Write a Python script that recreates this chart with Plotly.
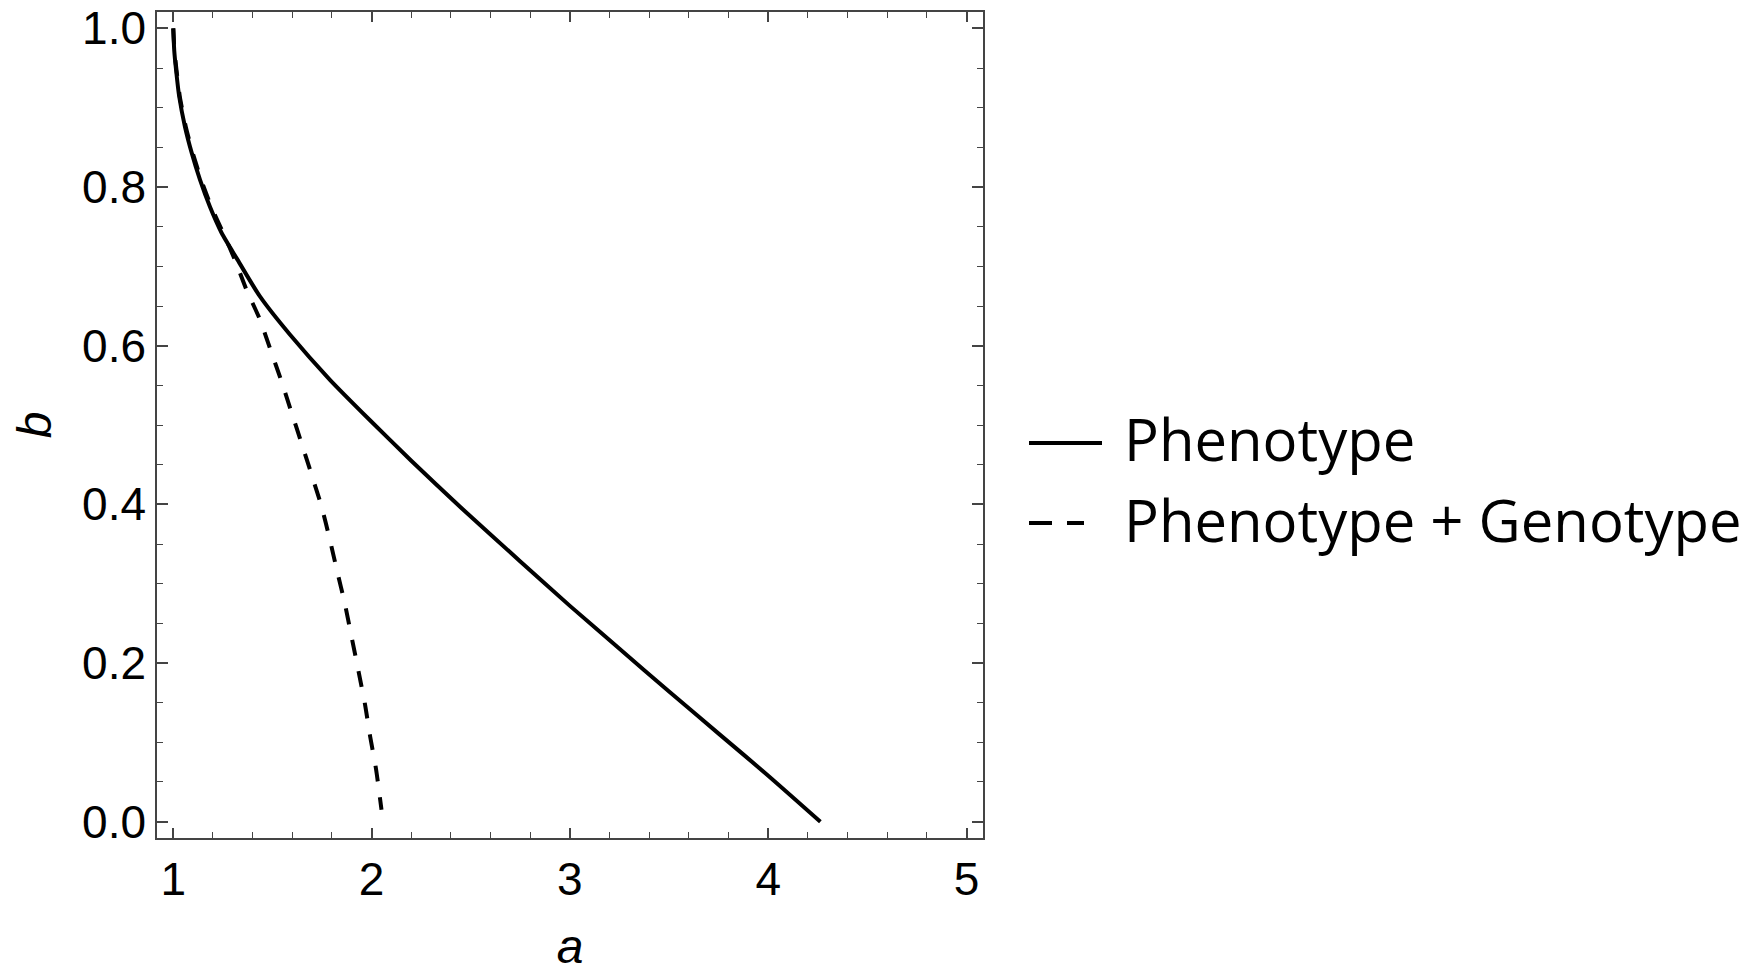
import plotly.graph_objects as go

# ---- data ----
a_pheno = [1.0, 1.005, 1.014, 1.030, 1.059, 1.093, 1.135, 1.185, 1.244, 1.320, 1.437,
           1.588, 1.790, 1.992, 2.2, 2.45, 2.75, 3.0, 3.25, 3.5, 3.75, 4.0, 4.263]
b_pheno = [1.0, 0.972, 0.948, 0.914, 0.876, 0.843, 0.809, 0.775, 0.742, 0.710, 0.662,
           0.614, 0.557, 0.506, 0.455, 0.396, 0.328, 0.272, 0.218, 0.164, 0.111, 0.058, 0.0]

a_geno = [1.0, 1.006, 1.016, 1.033, 1.063, 1.098, 1.141, 1.192, 1.252, 1.311, 1.370,
          1.437, 1.490, 1.543, 1.595, 1.647, 1.698, 1.748, 1.790, 1.827, 1.865, 1.899,
          1.933, 1.966, 1.993, 2.022, 2.050]
b_geno = [1.0, 0.972, 0.948, 0.914, 0.876, 0.843, 0.809, 0.775, 0.742, 0.708, 0.670,
          0.633, 0.595, 0.557, 0.517, 0.477, 0.437, 0.397, 0.355, 0.315, 0.275, 0.233,
          0.191, 0.149, 0.107, 0.067, 0.015]

series_names = ["Phenotype", "Phenotype + Genotype"]
x_ticks = [1, 2, 3, 4, 5]
y_ticks = [0.0, 0.2, 0.4, 0.6, 0.8, 1.0]

W, H = 1751, 973
L, R, T, B = 157, 983, 12, 838
frame = "#444444"
tickfont = dict(family="Liberation Sans, Arial, sans-serif", size=46, color="black")

fig = go.Figure()
fig.add_trace(go.Scatter(x=a_pheno, y=b_pheno, mode="lines", name=series_names[0],
                         line=dict(color="black", width=4, shape="spline", smoothing=0.6),
                         showlegend=False))
fig.add_trace(go.Scatter(x=a_geno, y=b_geno, mode="lines", name=series_names[1],
                         line=dict(color="black", width=4, dash="16px,16px",
                                   shape="spline", smoothing=0.6),
                         showlegend=False))

axis_common = dict(showgrid=False, zeroline=False, showline=True, linecolor=frame,
                   linewidth=1.5, mirror="ticks", ticks="inside", tickcolor=frame,
                   tickwidth=1.5, tickfont=tickfont, ticklabeloverflow="allow")

fig.update_xaxes(range=[0.918, 5.083], tickvals=x_ticks, ticklen=10,
                 minor=dict(dtick=0.2, tick0=1, ticks="inside", ticklen=6,
                            tickcolor=frame, tickwidth=1.2, showgrid=False),
                 title=dict(text="<i>a</i>", font=dict(family="Liberation Sans, Arial", size=48,
                                                      color="black"), standoff=30),
                 **axis_common)
fig.update_yaxes(range=[-0.0206, 1.0206], tickvals=y_ticks, tickformat=".1f", ticklen=11,
                 minor=dict(dtick=0.05, tick0=0, ticks="inside", ticklen=6,
                            tickcolor=frame, tickwidth=1.2, showgrid=False),
                 title=dict(text="<i>b</i>", font=dict(family="Liberation Sans, Arial", size=48,
                                                      color="black"), standoff=15),
                 **axis_common)

pw, ph = R - L, B - T
def px(xp):
    return (xp - L) / pw
def py(yp):
    return (B - yp) / ph

legfont = dict(family="Open Sans, sans-serif", size=58, color="black")
rows = [443, 523]
fig.add_shape(type="line", xref="paper", yref="paper", x0=px(1029), x1=px(1102),
              y0=py(rows[0]), y1=py(rows[0]), line=dict(color="black", width=4))
fig.add_shape(type="line", xref="paper", yref="paper", x0=px(1029), x1=px(1084),
              y0=py(rows[1]), y1=py(rows[1]), line=dict(color="black", width=4, dash="23px,15px"))
for name, yr in zip(series_names, rows):
    fig.add_annotation(xref="paper", yref="paper", x=px(1122), y=py(yr - 4),
                       xanchor="left", yanchor="middle", text=name, showarrow=False,
                       font=legfont)

fig.update_layout(width=W, height=H, margin=dict(l=L, r=W - R, t=T, b=H - B, autoexpand=False),
                  plot_bgcolor="white", paper_bgcolor="white")

fig.write_html("out.html", config={"displayModeBar": False},
               post_script="document.body.style.margin='0';document.body.style.overflow='hidden';")
